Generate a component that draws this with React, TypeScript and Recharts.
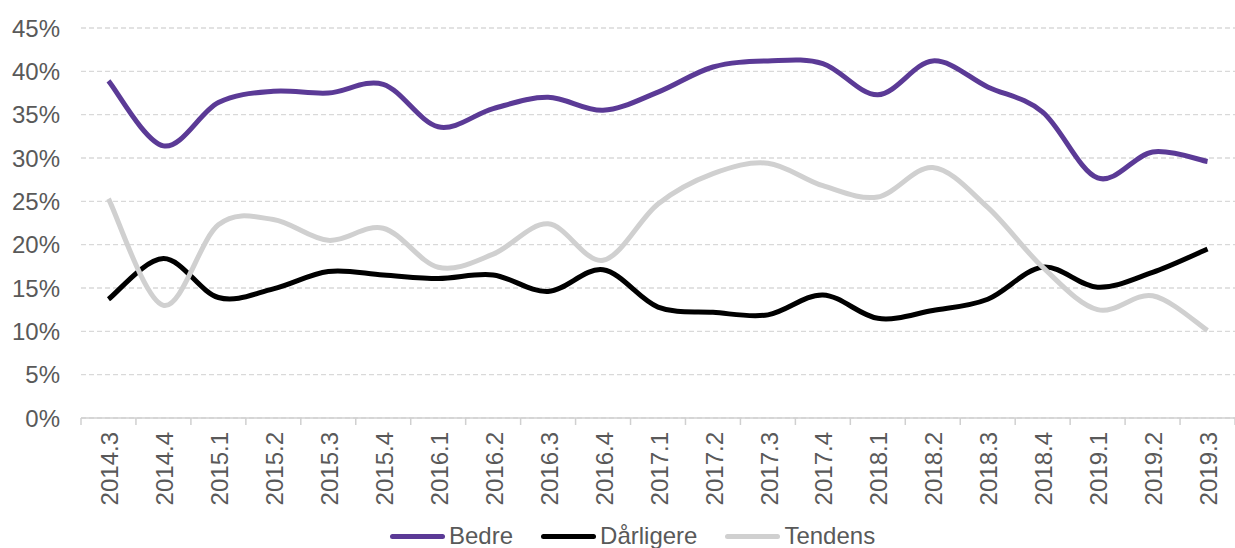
import React from 'react';
import { LineChart, Line, XAxis, YAxis, CartesianGrid } from 'recharts';

const categories = [
  '2014.3', '2014.4', '2015.1', '2015.2', '2015.3', '2015.4', '2016.1', '2016.2', '2016.3', '2016.4',
  '2017.1', '2017.2', '2017.3', '2017.4', '2018.1', '2018.2', '2018.3', '2018.4', '2019.1', '2019.2', '2019.3',
];

const bedre = [
  38.9, 31.4, 36.4, 37.7, 37.5, 38.5, 33.6, 35.7, 37.0, 35.5,
  37.6, 40.5, 41.2, 40.9, 37.3, 41.2, 38.2, 35.3, 27.7, 30.7, 29.6,
];

const darligere = [
  13.7, 18.4, 13.9, 14.9, 16.9, 16.5, 16.1, 16.5, 14.6, 17.1,
  12.8, 12.2, 11.9, 14.2, 11.5, 12.4, 13.7, 17.4, 15.1, 16.8, 19.5,
];

const tendens = [
  25.3, 13.0, 22.3, 22.9, 20.5, 21.9, 17.4, 18.9, 22.4, 18.2,
  24.7, 28.2, 29.4, 26.8, 25.5, 28.9, 24.3, 17.4, 12.5, 14.1, 10.1,
];

const yTicks = [0, 5, 10, 15, 20, 25, 30, 35, 40, 45];

const seriesInfo = [
  { key: 'bedre', name: 'Bedre', color: '#5b3a96' },
  { key: 'darligere', name: 'Dårligere', color: '#000000' },
  { key: 'tendens', name: 'Tendens', color: '#d0d0d0' },
];

const data = categories.map((c, i) => ({
  name: c,
  bedre: bedre[i],
  darligere: darligere[i],
  tendens: tendens[i],
}));

const WIDTH = 1235;
const HEIGHT = 548;
const X_HEIGHT = 130;
const Y_WIDTH = 81;
const MARGIN = { top: 28, right: 0, bottom: 0, left: 0 };
const FONT = '"Liberation Sans", Arial, sans-serif';
const TEXT = '#595959';
const FS = 24;
const band = (WIDTH - Y_WIDTH - MARGIN.right) / categories.length;

// excel style smoothing, bezier through each point
function smoothCurve(context: any) {
  let pts: number[][] = [];
  return {
    areaStart() {},
    areaEnd() {},
    lineStart() {
      pts = [];
    },
    point(x: number, y: number) {
      pts.push([+x, +y]);
    },
    lineEnd() {
      if (!pts.length) return;
      context.moveTo(pts[0][0], pts[0][1]);
      for (let i = 0; i < pts.length - 1; i++) {
        const p0 = pts[i - 1] || pts[i];
        const p1 = pts[i];
        const p2 = pts[i + 1];
        const p3 = pts[i + 2] || p2;
        context.bezierCurveTo(
          p1[0] + (p2[0] - p0[0]) / 6,
          p1[1] + (p2[1] - p0[1]) / 6,
          p2[0] - (p3[0] - p1[0]) / 6,
          p2[1] - (p3[1] - p1[1]) / 6,
          p2[0],
          p2[1],
        );
      }
    },
  };
}

function XTick(props: any) {
  const { x, y, payload, index } = props;
  const last = index === categories.length - 1;
  return (
    <g>
      <line x1={x - band / 2} x2={x - band / 2} y1={y} y2={y + 7} stroke="#d0d0d0" strokeWidth={1.5} />
      {last && <line x1={x + band / 2} x2={x + band / 2} y1={y} y2={y + 7} stroke="#d0d0d0" strokeWidth={1.5} />}
      <text
        transform={`translate(${x + 1},${y + 14}) rotate(-90)`}
        textAnchor="end"
        dy="0.36em"
        fill={TEXT}
        fontSize={FS}
        fontFamily={FONT}
      >
        {payload.value}
      </text>
    </g>
  );
}

export default function App() {
  return (
    <div style={{ position: 'relative', width: WIDTH, height: HEIGHT, background: '#fff' }}>
      <style>{'body{margin:0}'}</style>
      <LineChart width={WIDTH} height={HEIGHT} data={data} margin={MARGIN}>
        <CartesianGrid vertical={false} stroke="#d9d9d9" strokeDasharray="5 3" strokeWidth={1.3} />
        <XAxis
          dataKey="name"
          interval={0}
          tickLine={false}
          tickSize={0}
          tickMargin={0}
          height={X_HEIGHT}
          padding={{ left: band / 2, right: band / 2 }}
          axisLine={{ stroke: '#d0d0d0', strokeWidth: 1.5 }}
          tick={<XTick />}
        />
        <YAxis
          width={Y_WIDTH}
          domain={[0, 45]}
          ticks={yTicks}
          interval={0}
          axisLine={false}
          tickLine={false}
          tickSize={6}
          tickMargin={15}
          tickFormatter={(v: number) => `${v}%`}
          tick={{ fill: TEXT, fontSize: FS, fontFamily: FONT }}
        />
        {seriesInfo.map((s) => (
          <Line
            key={s.key}
            dataKey={s.key}
            name={s.name}
            type={smoothCurve as any}
            stroke={s.color}
            strokeWidth={5}
            dot={false}
            activeDot={false}
            isAnimationActive={false}
          />
        ))}
      </LineChart>
      <div
        style={{
          position: 'absolute',
          left: 390,
          top: 522,
          display: 'flex',
          alignItems: 'center',
          gap: 28,
          fontFamily: FONT,
          fontSize: FS,
          color: TEXT,
          lineHeight: '28px',
        }}
      >
        {seriesInfo.map((s) => (
          <div key={s.key} style={{ display: 'flex', alignItems: 'center' }}>
            <span
              style={{
                display: 'inline-block',
                width: 55,
                height: 5,
                borderRadius: 3,
                background: s.color,
                marginRight: 4,
              }}
            />
            <span>{s.name}</span>
          </div>
        ))}
      </div>
    </div>
  );
}
